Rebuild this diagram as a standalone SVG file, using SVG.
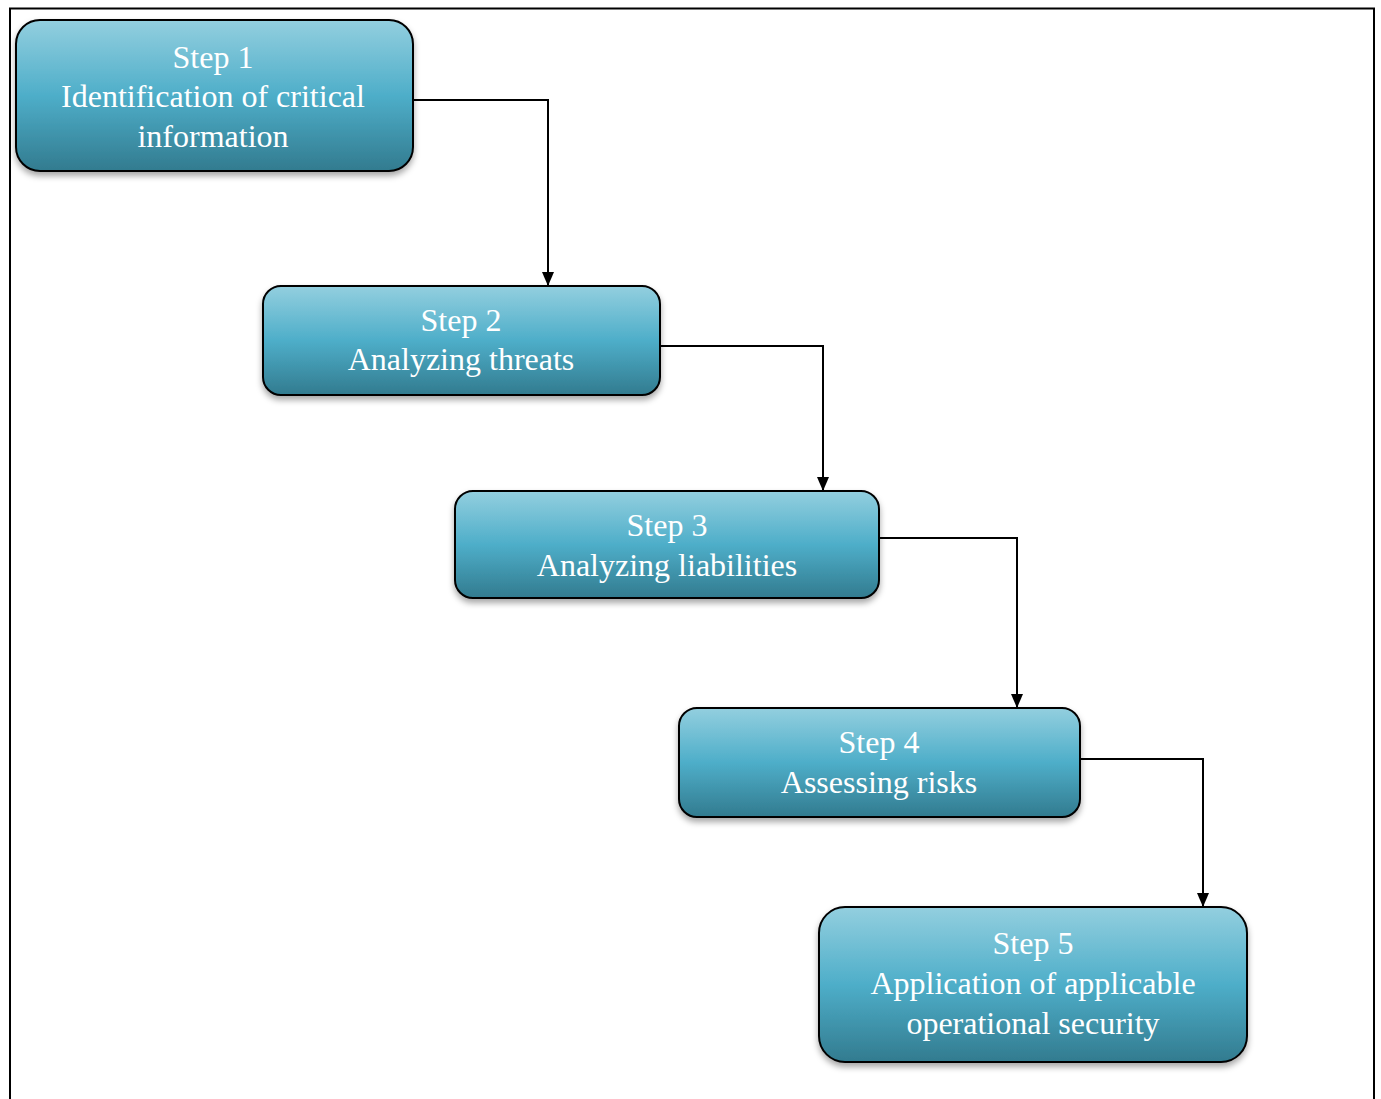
<svg xmlns="http://www.w3.org/2000/svg" width="1381" height="1099" viewBox="0 0 1381 1099">
<style>
.box{fill:url(#g);stroke:#000;stroke-width:2;filter:url(#sh)}
.t{font-family:'Liberation Serif','Times New Roman',Times,serif;font-size:32px;fill:#fff;text-anchor:middle}
.c{fill:none;stroke:#000;stroke-width:2;marker-end:url(#ah)}
</style>
<defs>
<linearGradient id="g" x1="0" y1="0" x2="0" y2="1">
<stop offset="0" stop-color="#93cfdf"/>
<stop offset="0.5" stop-color="#4eaec9"/>
<stop offset="1" stop-color="#327b8f"/>
</linearGradient>
<filter id="sh" x="-10%" y="-10%" width="120%" height="130%">
<feDropShadow dx="0" dy="4" stdDeviation="3" flood-color="#000" flood-opacity="0.35"/>
</filter>
<marker id="ah" markerWidth="14" markerHeight="12" refX="14" refY="6" orient="auto" markerUnits="userSpaceOnUse" viewBox="0 0 14 12">
<path d="M0,0 L14,6 L0,12 Z" fill="#000"/>
</marker>
</defs>
<rect width="1381" height="1099" fill="#fff"/>
<path d="M10,1099 V8.5 H1374 V1099" fill="none" stroke="#000" stroke-width="2"/>
<g id="connectors">
<path class="c" d="M413,100 H548 V286"/>
<path class="c" d="M660,346 H823 V491"/>
<path class="c" d="M879,538 H1017 V708"/>
<path class="c" d="M1080,759 H1203 V907"/>
</g>
<g id="step1">
<rect class="box" x="16" y="20" width="397" height="151" rx="24"/>
<text class="t" x="213" y="68">Step 1</text>
<text class="t" x="213" y="107">Identification of critical</text>
<text class="t" x="213" y="147">information</text>
</g>
<g id="step2">
<rect class="box" x="263" y="286" width="397" height="109" rx="18"/>
<text class="t" x="461" y="331">Step 2</text>
<text class="t" x="461" y="370">Analyzing threats</text>
</g>
<g id="step3">
<rect class="box" x="455" y="491" width="424" height="107" rx="18"/>
<text class="t" x="667" y="536">Step 3</text>
<text class="t" x="667" y="576">Analyzing liabilities</text>
</g>
<g id="step4">
<rect class="box" x="679" y="708" width="401" height="109" rx="18"/>
<text class="t" x="879" y="753">Step 4</text>
<text class="t" x="879" y="793">Assessing risks</text>
</g>
<g id="step5">
<rect class="box" x="819" y="907" width="428" height="155" rx="26"/>
<text class="t" x="1033" y="954">Step 5</text>
<text class="t" x="1033" y="994">Application of applicable</text>
<text class="t" x="1033" y="1034">operational security</text>
</g>
</svg>
